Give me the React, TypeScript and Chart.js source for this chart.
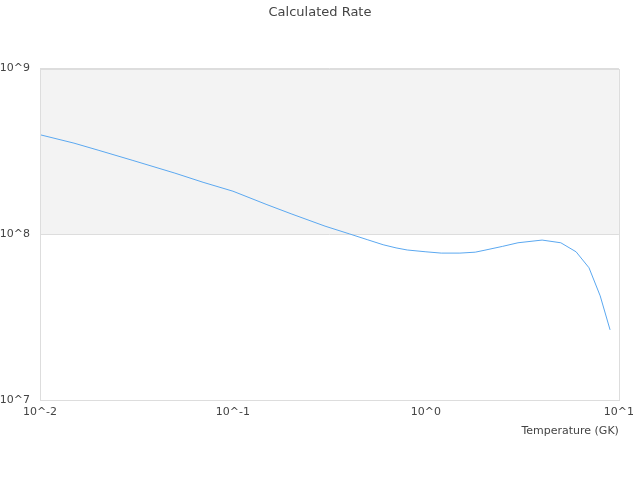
import { useEffect, useRef } from "react";
import { Chart, registerables } from "chart.js";

Chart.register(...registerables);

// temperatures (GK) and rates
const temperatures = [
  0.01, 0.015, 0.02, 0.03, 0.05, 0.07, 0.1, 0.15, 0.2, 0.3, 0.4, 0.5, 0.6,
  0.7, 0.8, 1.0, 1.2, 1.5, 1.8, 2, 2.5, 3, 4, 5, 6, 7, 8, 9,
];
const rates = [
  3.99e8, 3.55e8, 3.22e8, 2.8e8, 2.34e8, 2.06e8, 1.82e8, 1.51e8, 1.33e8,
  1.12e8, 1.007e8, 9.26e7, 8.65e7, 8.28e7, 8.04e7, 7.84e7, 7.7e7, 7.7e7,
  7.8e7, 8.0e7, 8.46e7, 8.89e7, 9.23e7, 8.89e7, 7.84e7, 6.28e7, 4.25e7,
  2.65e7,
];
const xTicks = [0.01, 0.1, 1, 10];
const yTicks = [1e7, 1e8, 1e9];
// band shaded between these two decades
const bandRange = [1e8, 1e9];

const powerLabel = (v: number) => `10^${Math.round(Math.log10(v))}`;

const bandPlugin = {
  id: "band",
  beforeDraw(chart: any) {
    const { ctx, chartArea, scales } = chart;
    const yTop = scales.y.getPixelForValue(bandRange[1]);
    const yBot = scales.y.getPixelForValue(bandRange[0]);
    ctx.save();
    ctx.fillStyle = "#f3f3f3";
    ctx.fillRect(chartArea.left, yTop, chartArea.right - chartArea.left, yBot - yTop);
    ctx.restore();
  },
  afterDraw(chart: any) {
    const { ctx, chartArea } = chart;
    ctx.save();
    ctx.strokeStyle = "#dddddd";
    ctx.lineWidth = 1;
    ctx.strokeRect(
      Math.round(chartArea.left) + 0.5,
      Math.round(chartArea.top) + 0.5,
      Math.round(chartArea.right - chartArea.left),
      Math.round(chartArea.bottom - chartArea.top)
    );
    ctx.restore();
  },
};

export default function App() {
  const canvasRef = useRef<HTMLCanvasElement>(null);
  const chartRef = useRef<Chart | null>(null);

  useEffect(() => {
    if (!canvasRef.current) return;
    if (chartRef.current) chartRef.current.destroy();

    Chart.defaults.font.family = "'DejaVu Sans', sans-serif";

    chartRef.current = new Chart(canvasRef.current, {
      type: "line",
      data: {
        datasets: [
          {
            data: temperatures.map((t, i) => ({ x: t, y: rates[i] })),
            borderColor: "#5ba8f0",
            borderWidth: 1,
            pointRadius: 0,
            tension: 0,
            fill: false,
          },
        ],
      },
      options: {
        animation: false,
        responsive: false,
        layout: { padding: 0 },
        plugins: {
          legend: { display: false },
          tooltip: { enabled: false },
          title: {
            display: true,
            text: "Calculated Rate",
            color: "#444",
            font: { size: 13, weight: "normal" },
            padding: { top: 5, bottom: 48 },
          },
        },
        scales: {
          x: {
            type: "logarithmic",
            min: 0.01,
            max: 10,
            afterBuildTicks: (axis: any) => {
              axis.ticks = xTicks.map((v) => ({ value: v }));
            },
            afterFit: (axis: any) => {
              axis.height = 80;
            },
            ticks: {
              color: "#444",
              font: { size: 11 },
              padding: 6,
              maxRotation: 0,
              autoSkip: false,
              callback: (v: any) => powerLabel(Number(v)),
            },
            grid: { display: false, drawTicks: false },
            border: { display: false },
            title: {
              display: true,
              text: "Temperature (GK)",
              align: "end",
              color: "#444",
              font: { size: 11 },
              padding: { top: 0, bottom: 42 },
            },
          },
          y: {
            type: "logarithmic",
            min: 1e7,
            max: 1e9,
            afterBuildTicks: (axis: any) => {
              axis.ticks = yTicks.map((v) => ({ value: v }));
            },
            afterFit: (axis: any) => {
              axis.width = 40;
            },
            ticks: {
              color: "#444",
              font: { size: 11 },
              padding: 10,
              autoSkip: false,
              callback: (v: any) => powerLabel(Number(v)),
            },
            grid: { color: "#dddddd", drawTicks: false },
            border: { display: false },
          },
          // empty right-hand axis, only reserves the right margin
          yRight: {
            position: "right",
            display: true,
            afterFit: (axis: any) => {
              axis.width = 20;
            },
            ticks: { display: false },
            grid: { display: false, drawTicks: false },
            border: { display: false },
          },
        },
      },
      plugins: [bandPlugin],
    } as any);

    return () => {
      if (chartRef.current) {
        chartRef.current.destroy();
        chartRef.current = null;
      }
    };
  }, []);

  return (
    <div style={{ position: "absolute", left: 0, top: 0, width: 640, height: 480, background: "#fff" }}>
      <canvas ref={canvasRef} width={640} height={480} style={{ display: "block" }}></canvas>
    </div>
  );
}
